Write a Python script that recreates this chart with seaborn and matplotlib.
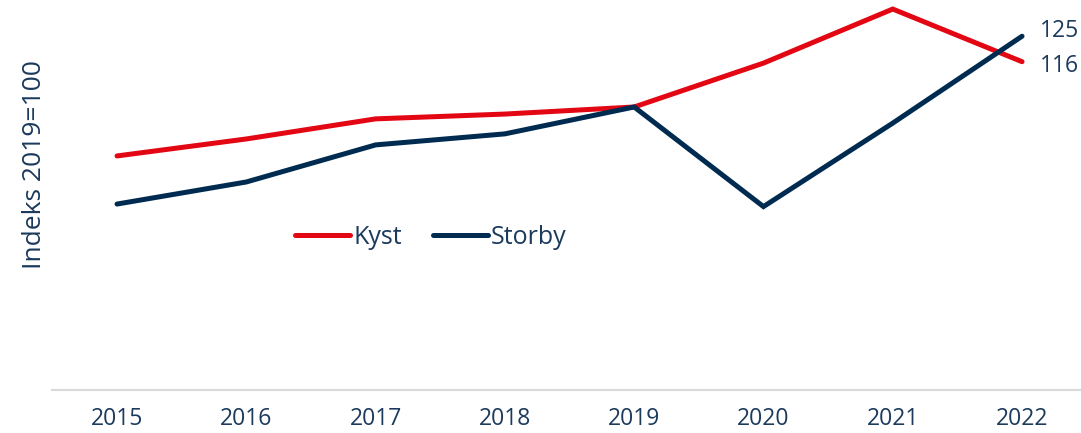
import matplotlib
matplotlib.use("Agg")
import matplotlib.pyplot as plt
import seaborn as sns
import pandas as pd
from matplotlib.lines import Line2D

years = [2015, 2016, 2017, 2018, 2019, 2020, 2021, 2022]
kyst = [82.7, 88.7, 95.8, 97.5, 100.0, 115.5, 134.6, 116.0]
storby = [65.7, 73.5, 86.6, 90.5, 100.0, 64.8, 94.3, 125.0]
series_names = ["Kyst", "Storby"]
end_labels = ["116", "125"]

RED = "#E30613"
NAVY = "#002B51"
TEXT = "#1B3A5C"

sns.set_theme(style="white")
plt.rcParams["font.family"] = ["Open Sans", "DejaVu Sans"]

df = pd.DataFrame({
    "year": years * 2,
    "value": kyst + storby,
    "series": [series_names[0]] * len(years) + [series_names[1]] * len(years),
})

fig = plt.figure(figsize=(10.81, 4.33), dpi=100)
ax = fig.add_axes([52 / 1081, 43 / 433, 1 - 52 / 1081, 390 / 433])

sns.lineplot(data=df, x="year", y="value", hue="series",
             palette={"Kyst": RED, "Storby": NAVY}, linewidth=3.6,
             solid_capstyle="round", solid_joinstyle="miter", legend=False, ax=ax)

ax.set_xlim(2014.497, 2022.456)
ax.set_ylim(0, 137.8)
ax.set_xticks(years)
ax.set_xticklabels([str(y) for y in years])
ax.set_yticks([])
ax.set_xlabel("")
ax.set_ylabel("")
ax.tick_params(axis="x", length=0, pad=12, labelsize=16.5, colors=TEXT)
for s in ["top", "right", "left"]:
    ax.spines[s].set_visible(False)
ax.spines["bottom"].set_color("#D9D9D9")
ax.spines["bottom"].set_linewidth(1.5)

# end labels
ax.annotate(end_labels[1], xy=(years[-1], storby[-1]), xytext=(13, 3.5),
            textcoords="offset points", ha="left", va="center",
            fontsize=16.5, color=TEXT)
ax.annotate(end_labels[0], xy=(years[-1], kyst[-1]), xytext=(13, -3),
            textcoords="offset points", ha="left", va="center",
            fontsize=16.5, color=TEXT)

handles = [Line2D([], [], color=RED, lw=3.6, solid_capstyle="round"),
           Line2D([], [], color=NAVY, lw=3.6, solid_capstyle="round")]
leg = fig.legend(handles, series_names, loc="center",
                 bbox_to_anchor=(431 / 1081, 1 - 237 / 433), ncol=2,
                 frameon=False, fontsize=18, handlelength=2.2,
                 handletextpad=0.15, columnspacing=1.2, borderpad=0)
for t in leg.get_texts():
    t.set_color(TEXT)

fig.text(35 / 1081, 1 - 165 / 433, "Indeks 2019=100", rotation=90,
         ha="center", va="center", fontsize=19, color=TEXT)

fig.savefig("out.png", dpi=100)
